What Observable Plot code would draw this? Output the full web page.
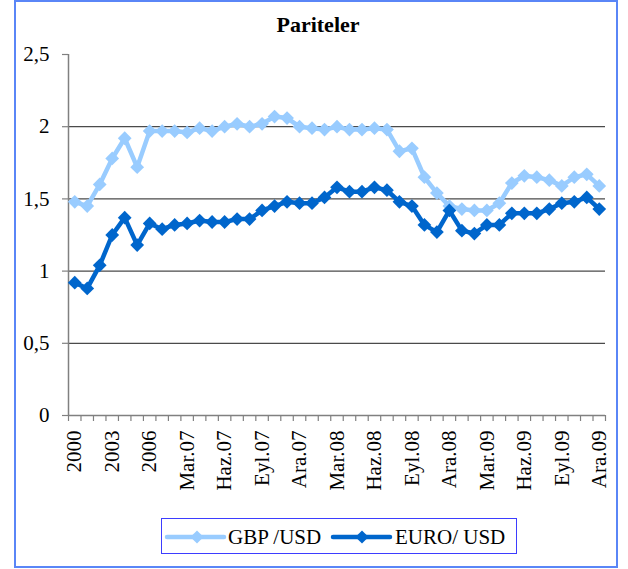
<!DOCTYPE html>
<html><head><meta charset="utf-8">
<script src="https://cdn.jsdelivr.net/npm/d3@7"></script>
<script src="https://cdn.jsdelivr.net/npm/@observablehq/plot@0.6"></script>
<style>
body{margin:0;background:#fff;}
#wrap{position:relative;width:628px;height:569px;overflow:hidden;font-family:"Liberation Serif","Times New Roman",serif;background:#fff;}
#border{position:absolute;left:14px;top:0;width:604px;height:568px;border:2px solid #5a86f7;box-sizing:border-box;}
#title{position:absolute;left:0;top:14px;width:636px;text-align:center;font-size:22px;line-height:22px;font-weight:bold;color:#000;}
#chart{position:absolute;left:0;top:0;}
#legend{position:absolute;left:161px;top:518px;width:356px;height:36px;border:1.5px solid #3d3dff;box-sizing:border-box;background:#fff;}
#legend svg{position:absolute;left:0;top:0;}
</style>
</head><body>
<div id="wrap">
  <div id="border"></div>
  <div id="chart"></div>
  <div id="title">Pariteler</div>
  <div id="legend"></div>
</div>
<script>
const categories = ["2000","2001","2002","2003","2004","2005","2006",
  "Oca.07","Şub.07","Mar.07","Nis.07","May.07","Haz.07","Tem.07","Ağu.07","Eyl.07","Eki.07","Kas.07","Ara.07",
  "Oca.08","Şub.08","Mar.08","Nis.08","May.08","Haz.08","Tem.08","Ağu.08","Eyl.08","Eki.08","Kas.08","Ara.08",
  "Oca.09","Şub.09","Mar.09","Nis.09","May.09","Haz.09","Tem.09","Ağu.09","Eyl.09","Eki.09","Kas.09","Ara.09"];
const gbpUsd = [1.48,1.45,1.60,1.78,1.92,1.72,1.97,1.97,1.97,1.96,1.99,1.97,2.00,2.02,2.00,2.02,2.07,2.06,2.00,1.99,1.98,2.00,1.98,1.98,1.99,1.98,1.83,1.85,1.65,1.54,1.45,1.43,1.42,1.42,1.47,1.61,1.66,1.65,1.63,1.59,1.65,1.67,1.59];
const euroUsd = [0.92,0.88,1.04,1.25,1.37,1.18,1.33,1.29,1.32,1.33,1.35,1.34,1.34,1.36,1.36,1.42,1.45,1.48,1.47,1.47,1.51,1.58,1.55,1.55,1.58,1.56,1.48,1.45,1.32,1.27,1.42,1.28,1.26,1.32,1.32,1.40,1.40,1.40,1.43,1.47,1.48,1.51,1.43];
const xTickLabels = ["2000","2003","2006","Mar.07","Haz.07","Eyl.07","Ara.07","Mar.08","Haz.08","Eyl.08","Ara.08","Mar.09","Haz.09","Eyl.09","Ara.09"];
const yTicks = [0,0.5,1,1.5,2,2.5];
const gridValues = [0.5,1,1.5,2];
const seriesNames = ["GBP /USD","EURO/ USD"];
const seriesColors = ["#99ccff","#0066cc"];

const gbpData = categories.map((c,i)=>({cat:c, v:gbpUsd[i]}));
const euroData = categories.map((c,i)=>({cat:c, v:euroUsd[i]}));

const W = 628, H = 520, ML = 68, MR = 23, MT = 54, MB = 105;
const bw = (W - ML - MR) / categories.length;
const font = "Liberation Serif";

const plot = Plot.plot({
  width: W, height: H,
  marginLeft: ML, marginRight: MR, marginTop: MT, marginBottom: MB,
  style: {fontFamily: font, background: "transparent", color: "#000"},
  x: {type: "band", domain: categories, padding: 0, round: false, axis: null, label: null},
  y: {domain: [0, 2.5], axis: null, label: null},
  marks: [
    Plot.gridY(gridValues, {stroke: "#4a4a4a", strokeOpacity: 1, strokeWidth: 1.2}),
    Plot.ruleY([0], {stroke: "#808080", strokeWidth: 1.5}),
    Plot.ruleX([categories[0]], {dx: -bw/2, stroke: "#808080", strokeWidth: 1.5}),
    Plot.axisY({ticks: yTicks, tickSize: 6, tickPadding: 13, label: null, tickFormat: d => String(d).replace(".", ","),
      fontSize: 21, fontFamily: font, stroke: "#808080", strokeWidth: 1.2, fill: "#000"}),
    Plot.axisX({ticks: categories, tickSize: 6, label: null, tickFormat: () => "", dx: -bw/2, stroke: "#808080", strokeWidth: 1.2}),
    Plot.axisX({ticks: [categories[categories.length-1]], tickSize: 6, label: null, tickFormat: () => "", dx: bw/2, stroke: "#808080", strokeWidth: 1.2}),
    Plot.axisX({ticks: xTickLabels, tickSize: 0, tickPadding: 15, tickRotate: -90, label: null, fontSize: 21, fontFamily: font, fill: "#000"}),
    Plot.line(gbpData, {x: "cat", y: "v", stroke: seriesColors[0], strokeWidth: 4.5, strokeLinejoin: "round"}),
    Plot.dot(gbpData, {x: "cat", y: "v", symbol: "diamond2", r: 6.2, fill: seriesColors[0], stroke: null}),
    Plot.line(euroData, {x: "cat", y: "v", stroke: seriesColors[1], strokeWidth: 4.5, strokeLinejoin: "round"}),
    Plot.dot(euroData, {x: "cat", y: "v", symbol: "diamond2", r: 6.2, fill: seriesColors[1], stroke: null})
  ]
});
document.getElementById("chart").appendChild(plot);

// legend
const lg = d3.select("#legend").append("svg").attr("width", 356).attr("height", 36);
const items = [{x0: 5, x1: 62, mx: 35, tx: 66}, {x0: 171, x1: 228, mx: 200, tx: 233}];
items.forEach((it, i) => {
  lg.append("line").attr("x1", it.x0).attr("x2", it.x1).attr("y1", 18).attr("y2", 18)
    .attr("stroke", seriesColors[i]).attr("stroke-width", 4.5).attr("stroke-linecap", "round");
  lg.append("path").attr("d", d3.symbol(d3.symbolDiamond2, 110)()).attr("transform", `translate(${it.mx},18)`)
    .attr("fill", seriesColors[i]);
  lg.append("text").attr("x", it.tx).attr("y", 25).attr("font-family", font).attr("font-size", 21)
    .attr("fill", "#000").text(seriesNames[i]);
});
</script>
</body></html>
